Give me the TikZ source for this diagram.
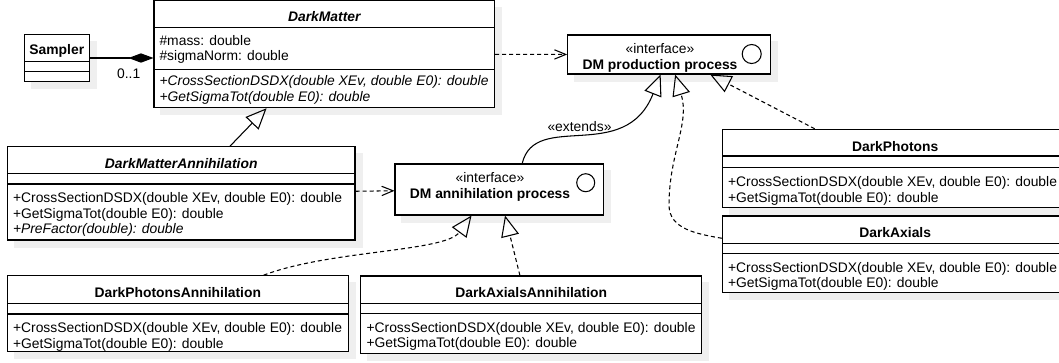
\documentclass[tikz,border=0pt]{standalone}
\usepackage{fontspec}
\setmainfont{Liberation Sans}
\usetikzlibrary{arrows.meta,calc,fit,backgrounds}
\newcommand{\umlfont}{\fontsize{10.4}{11.6}\selectfont}
\definecolor{shadowgray}{HTML}{EFEFEF}
\begin{document}
\begin{tikzpicture}[x=0.75pt,y=-0.75pt,line width=0.8pt,font=\umlfont,
  classbox/.style={draw,fill=white,inner sep=0pt},
  members/.style={anchor=west,align=left,inner sep=0pt},
  absmembers/.style={members,font=\umlfont\itshape},
  classname/.style={inner sep=0pt,font=\umlfont\bfseries},
  absname/.style={inner sep=0pt,font=\umlfont\bfseries\itshape},
  realize/.style={dash pattern=on 3pt off 2.25pt,-{Straight Barb[length=8.5pt,width=7pt]}},
  implements/.style={dash pattern=on 3pt off 2.25pt,-{Triangle[open,length=15.75pt,width=13.5pt]}},
  inherit/.style={-{Triangle[open,length=15.75pt,width=13.5pt]}}]
\clip (0,0) rectangle (1059,362);
\node[classbox,fit={(24.3,34.3) (89.3,81.7)}] (smp) {};
\draw (24.3,61.7) -- (89.3,61.7) (24.3,71.7) -- (89.3,71.7);
\node[classname] (smpname) at (56.8,51) {Sampler};
\node[classbox,fit={(154,0.9) (494.7,107.7)}] (dm) {};
\draw (154,27.7) -- (494.7,27.7) (154,69.3) -- (494.7,69.3);
\node[absname] (dmname) at (324.3,17) {DarkMatter};
\node[members] (dmattr) at (159,49.5) {\#mass: double\\\#sigmaNorm: double};
\node[absmembers] (dmops) at (159,90) {+CrossSectionDSDX(double XEv, double E0): double\\+GetSigmaTot(double E0): double};
\node[classbox,fit={(567.7,35) (770.7,74)}] (prod) {};
\node[align=center,inner sep=0pt] (prodname) at (660,58) {«interface»\\\textbf{DM production process}};
\draw (751.7,54) circle (9.5);
\node[classbox,fit={(395,164) (603.3,215)}] (ann) {};
\node[align=center,inner sep=0pt] (annname) at (490,187) {«interface»\\\textbf{DM annihilation process}};
\draw (585.7,182.7) circle (9);
\node[classbox,fit={(7.3,146.7) (355,240)}] (dma) {};
\draw (7.3,173.3) -- (355,173.3) (7.3,184) -- (355,184);
\node[absname] (dmaname) at (181.2,163.3) {DarkMatterAnnihilation};
\node[members] (dmaops) at (12.5,214.5) {+CrossSectionDSDX(double XEv, double E0): double\\+GetSigmaTot(double E0): double\\\textit{+PreFactor(double): double}};
\node[classbox,fit={(7.3,275.7) (348.3,351.7)}] (dpa) {};
\draw (7.3,303.3) -- (348.3,303.3) (7.3,314) -- (348.3,314);
\node[classname] (dpaname) at (177.8,292.3) {DarkPhotonsAnnihilation};
\node[members] (dpaops) at (12.5,336.7) {+CrossSectionDSDX(double XEv, double E0): double\\+GetSigmaTot(double E0): double};
\node[classbox,fit={(360.7,276) (701.7,353.3)}] (daa) {};
\draw (360.7,303.3) -- (701.7,303.3) (360.7,313.3) -- (701.7,313.3);
\node[classname] (daaname) at (531.2,292.3) {DarkAxialsAnnihilation};
\node[members] (daaops) at (366,336.2) {+CrossSectionDSDX(double XEv, double E0): double\\+GetSigmaTot(double E0): double};
\node[classbox,fit={(722.3,129.3) (1068,207.3)}] (dp) {};
\draw (722.3,156) -- (1068,156) (722.3,167.7) -- (1068,167.7);
\node[classname] (dpname) at (895.2,146.7) {DarkPhotons};
\node[members] (dpops) at (727.5,190.8) {+CrossSectionDSDX(double XEv, double E0): double\\+GetSigmaTot(double E0): double};
\node[classbox,fit={(722.3,216) (1068,292.7)}] (dax) {};
\draw (722.3,243.3) -- (1068,243.3) (722.3,253.3) -- (1068,253.3);
\node[classname] (daxname) at (895.2,232.7) {DarkAxials};
\node[members] (daxops) at (727.5,276.2) {+CrossSectionDSDX(double XEv, double E0): double\\+GetSigmaTot(double E0): double};
\begin{scope}[on background layer]
\foreach \n in {smp,dm,prod,ann,dma,dpa,daa,dp,dax}
  \fill[shadowgray] ([shift={(7,7)}]\n.north west) rectangle ([shift={(7,7)}]\n.south east);
\end{scope}
\draw[-{Diamond[length=18.75pt,width=7pt]}] (smp.east) -- (smp.east -| dm.west) node[pos=0.61,below=7.5pt,inner sep=0pt] (mult) {0..1};
\draw[realize] (dm) -- (prod);
\draw[realize] (dma) -- (ann);
\draw[inherit] ($(dma.north west)!0.64!(dma.north east)$) -- ($(dm.south west)!0.331!(dm.south east)$);
\draw[inherit] ($(ann.north west)!0.61!(ann.north east)$) .. controls (535,110) and (625,165) .. ($(prod.south west)!0.458!(prod.south east)$);
\node[inner sep=0pt] (extlbl) at (579.5,126.7) {«extends»};
\draw[implements] ($(dpa.north west)!0.751!(dpa.north east)$) .. controls (330,250) and (445,252) .. ($(ann.south west)!0.368!(ann.south east)$);
\draw[implements] ($(daa.north west)!0.467!(daa.north east)$) -- ($(ann.south west)!0.528!(ann.south east)$);
\draw[implements] ($(dp.north west)!0.268!(dp.north east)$) -- ($(prod.south west)!0.701!(prod.south east)$);
\coordinate (axbend) at (669,205);
\draw[implements] ($(dax.north west)!0.293!(dax.south west)$) to[out=170,in=-90] (axbend) to[out=90,in=287] ($(prod.south west)!0.529!(prod.south east)$);
\end{tikzpicture}
\end{document}
